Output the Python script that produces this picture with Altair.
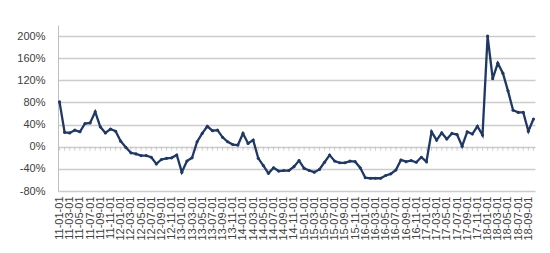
import altair as alt
import pandas as pd

years = [11, 12, 13, 14, 15, 16, 17, 18]
months = list(range(1, 13))
values = [81, 26, 25, 30, 27, 42, 43, 63, 36, 25, 32, 28,
          10, -1, -11, -13, -16, -16, -19, -31, -23, -21, -20, -15,
          -46, -26, -20, 9, 24, 37, 29, 30, 17, 9, 4, 3,
          24, 6, 12, -21, -34, -48, -38, -44, -43, -43, -36, -25,
          -39, -43, -46, -41, -28, -15, -26, -29, -29, -26, -27, -38,
          -56, -57, -57, -57, -52, -49, -42, -24, -27, -25, -28, -19,
          -27, 27, 12, 25, 14, 24, 22, 1, 27, 23, 37, 21,
          200, 123, 151, 133, 101, 66, 62, 62, 28, 50]
y_ticks = [-80, -40, 0, 40, 80, 120, 160, 200]

labels = [f"{y:02d}-{m:02d}-01" for y in years for m in months][:len(values)]
shown = labels[::2]

df = pd.DataFrame({"month": labels, "value": values})

x_axis = alt.Axis(values=shown, labelAngle=-90, domain=False, ticks=False,
                  grid=False, labelPadding=5, labelFontSize=11,
                  labelFont="Liberation Sans", labelColor="#404040",
                  title=None, labelOverlap=False)
x_scale = alt.Scale(type="point", padding=0.3)
y_scale = alt.Scale(domain=[-80, 220], nice=False, zero=False)
y_axis = alt.Axis(values=y_ticks, labelExpr="datum.value + '%'",
                  grid=True, gridColor="#cccccc", gridWidth=1.3,
                  domain=True, domainColor="#bfbfbf", ticks=False,
                  labelPadding=13, labelFontSize=11, labelOverlap=False,
                  labelFont="Liberation Sans", labelColor="#404040",
                  title=None)

base = alt.Chart(df)

ticks = base.mark_tick(orient="vertical", size=4, thickness=1, color="#bfbfbf", yOffset=2).encode(
    x=alt.X("month:O", sort=None, scale=x_scale, axis=x_axis),
    y=alt.Y(datum=0, scale=y_scale, axis=y_axis),
)

line = base.mark_line(color="#1F3864", strokeWidth=2.3,
                      point=alt.OverlayMarkDef(filled=True, size=10, color="#1F3864")).encode(
    x=alt.X("month:O", sort=None, scale=x_scale, axis=x_axis),
    y=alt.Y("value:Q", scale=y_scale, axis=y_axis),
)

chart = alt.layer(ticks, line).properties(
    width=477, height=166,
    autosize=alt.AutoSizeParams(type="none"),
    padding={"left": 58, "top": 25, "right": 15, "bottom": 62},
    background="white",
).configure_view(stroke=None)

chart.save("out.html", embed_options={"renderer": "svg", "actions": False})
